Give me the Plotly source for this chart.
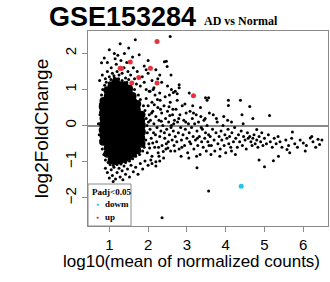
import plotly.graph_objects as go

# ---------------- data ----------------
# dense core of non-significant genes (drawn with larger dots so they merge)
core_x = [0.84, 0.85, 0.83, 0.84, 0.85, 0.84, 0.83, 0.85,
          0.95, 0.96, 0.94, 0.95, 0.96, 0.95, 0.94, 0.96, 0.95, 0.94, 0.96, 0.95,
          1.06, 1.05, 1.07, 1.06, 1.05, 1.06, 1.07, 1.05, 1.06, 1.07, 1.05, 1.06, 1.07, 1.06,
          1.17, 1.16, 1.18, 1.17, 1.16, 1.17, 1.18, 1.16, 1.17, 1.18, 1.16, 1.17, 1.18, 1.16, 1.17,
          1.28, 1.27, 1.29, 1.28, 1.27, 1.28, 1.29, 1.27, 1.28, 1.29, 1.27, 1.28, 1.29, 1.28,
          1.39, 1.38, 1.40, 1.39, 1.38, 1.39, 1.40, 1.38, 1.39, 1.40, 1.38, 1.39, 1.40, 1.39,
          1.50, 1.49, 1.51, 1.50, 1.49, 1.50, 1.51, 1.49, 1.50, 1.51, 1.49, 1.50, 1.51,
          1.61, 1.60, 1.62, 1.61, 1.60, 1.61, 1.62, 1.60, 1.61, 1.62, 1.60,
          1.72, 1.71, 1.73, 1.72, 1.71, 1.72, 1.73, 1.71, 1.72,
          1.83, 1.82, 1.84, 1.83, 1.82, 1.83]
core_y = [-0.45, -0.28, -0.12, 0.04, 0.20, 0.36, 0.52, 0.68,
          -0.78, -0.62, -0.46, -0.30, -0.14, 0.02, 0.18, 0.34, 0.50, 0.66, 0.82, 0.98,
          -0.95, -0.79, -0.63, -0.47, -0.31, -0.15, 0.01, 0.17, 0.33, 0.49, 0.65, 0.81, 0.97, 1.12,
          -0.98, -0.82, -0.66, -0.50, -0.34, -0.18, -0.02, 0.14, 0.30, 0.46, 0.62, 0.78, 0.94, 1.10, 1.22,
          -0.96, -0.80, -0.64, -0.48, -0.32, -0.16, 0.00, 0.16, 0.32, 0.48, 0.64, 0.80, 0.96, 1.12,
          -0.92, -0.76, -0.60, -0.44, -0.28, -0.12, 0.04, 0.20, 0.36, 0.52, 0.68, 0.84, 1.00, 1.12,
          -0.85, -0.69, -0.53, -0.37, -0.21, -0.05, 0.11, 0.27, 0.43, 0.59, 0.75, 0.91, 1.02,
          -0.78, -0.62, -0.46, -0.30, -0.14, 0.02, 0.18, 0.34, 0.50, 0.66, 0.82,
          -0.68, -0.52, -0.36, -0.20, -0.04, 0.12, 0.28, 0.44, 0.60,
          -0.50, -0.34, -0.18, -0.02, 0.14, 0.30]

halo_pts = [(0.76, 0.3), (0.78, -0.1), (0.77, 0.6), (0.79, -0.4), (0.8, 0.85), (0.81, 0.1),
            (0.82, -0.65), (0.83, 1.0), (0.86, -0.8), (0.88, 1.12), (0.9, -0.95), (0.92, 1.2),
            (0.97, -1.02), (1.0, 1.18), (1.02, -1.08), (1.04, 1.28), (1.1, -1.1), (1.13, 1.32),
            (1.2, -1.08), (1.24, 1.3), (1.3, -1.06), (1.33, 1.25), (1.42, -1.02), (1.45, 1.2),
            (1.52, -0.98), (1.55, 1.1), (1.6, -0.92), (1.65, 1.0), (1.68, -0.85), (1.75, 0.85),
            (1.78, -0.8), (1.8, 0.72), (1.86, -0.7), (1.88, 0.55), (1.9, -0.6), (1.92, 0.42),
            (1.95, 0.2), (1.94, -0.4), (1.97, 0.0), (1.98, -0.2), (1.9, 0.05), (1.88, -0.3),
            (0.75, 1.25), (0.72, 0.05), (0.74, -0.25)]

top_pts = [(0.8, 1.74), (0.87, 1.87), (0.82, 1.4), (0.9, 1.3), (0.95, 1.5), (1.0, 1.35),
           (1.05, 1.6), (1.08, 1.45), (1.12, 1.38), (1.13, 2.0), (1.18, 1.7), (1.2, 1.5),
           (1.25, 1.4), (1.3, 1.8), (1.33, 1.45), (1.38, 1.6), (1.39, 2.0), (1.42, 1.32),
           (1.48, 1.5), (1.5, 1.28), (1.55, 1.4), (1.6, 1.9), (1.62, 1.6), (1.65, 1.3),
           (1.7, 1.15), (1.72, 1.5), (1.77, 1.96), (1.8, 1.1), (1.85, 1.35), (1.9, 1.2),
           (1.95, 1.0), (2.0, 1.45), (2.05, 0.95), (2.1, 1.25), (2.15, 1.05), (2.3, 1.4),
           (2.42, 1.77), (2.35, 1.2), (2.5, 1.1), (2.6, 1.0), (2.7, 0.95), (2.8, 1.05),
           (2.55, 0.85), (1.5, 2.15), (0.95, 1.75), (1.22, 1.95), (1.9, 1.65), (2.2, 1.55),
           (2.0, 1.8), (1.45, 1.75), (1.15, 1.85), (2.3, 0.9), (2.25, 1.3), (1.95, 1.55),
           (2.59, 1.4), (2.8, 1.13), (2.65, 0.92), (2.75, 0.88), (3.06, 0.9), (3.48, 0.77)]

band_pts = [(1.95, 0.75), (1.98, -0.75), (2.0, 0.55), (2.02, -0.5), (2.03, 0.3), (2.05, -0.1),
            (2.06, 0.15), (2.08, -0.35), (2.1, 0.65), (2.1, -0.85), (2.12, 0.4), (2.14, -0.2),
            (2.15, 0.05), (2.17, -0.6), (2.18, 0.85), (2.2, 0.25), (2.22, -0.45), (2.23, -0.05),
            (2.25, 0.5), (2.26, -0.75), (2.28, 0.15), (2.3, -0.3), (2.31, 0.7), (2.33, -0.15),
            (2.35, 0.35), (2.36, -0.55), (2.38, 0.0), (2.4, -0.9), (2.41, 0.55), (2.43, -0.35),
            (2.45, 0.2), (2.46, -0.65), (2.48, -0.1), (2.5, 0.4), (2.52, -0.45), (2.53, 0.1),
            (2.55, -0.25), (2.57, 0.65), (2.58, -0.7), (2.6, 0.0), (2.62, -0.4), (2.63, 0.3),
            (2.65, -0.15), (2.67, -0.55), (2.68, 0.15), (2.7, -0.3), (2.03, 0.95), (2.07, -0.95),
            (2.13, 1.0), (2.2, -1.0), (2.28, -0.85), (2.16, 0.58), (2.24, 0.72), (2.04, -0.62),
            (2.12, -0.48), (2.32, 0.45), (2.39, -0.72), (2.44, 0.8), (2.47, -0.5), (2.54, 0.52),
            (2.59, -0.05), (2.64, 0.45), (2.69, -0.7), (2.01, 0.1), (2.09, 0.35), (2.19, -0.25),
            (2.27, -0.6), (2.34, 0.12), (2.42, -0.2), (2.51, -0.62), (2.56, 0.28), (2.66, 0.05),
            (2.72, 0.45), (2.74, -0.45), (2.76, 0.1), (2.78, -0.2), (2.8, -0.65), (2.82, 0.3),
            (2.84, -0.05), (2.86, -0.4), (2.88, 0.55), (2.9, -0.25), (2.92, 0.15), (2.94, -0.55),
            (2.96, -0.1), (2.98, 0.35), (3.0, -0.35), (3.02, -0.75), (3.04, 0.05), (3.06, -0.2),
            (3.08, 0.4), (3.1, -0.5), (3.12, -0.05), (3.14, 0.2), (3.16, -0.3), (3.18, -0.65),
            (3.2, 0.05), (3.22, -0.4), (3.24, 0.3), (3.26, -0.15), (3.28, -0.55), (3.3, 0.1),
            (3.32, -0.3), (3.34, -0.8), (3.36, 0.25), (3.38, -0.45), (3.4, -0.1), (3.42, -0.6),
            (3.44, 0.15), (3.46, -0.35), (3.48, -0.2), (3.5, -0.7), (3.52, 0.0), (3.54, -0.45),
            (3.56, -0.25), (3.58, 0.35), (2.75, 0.7), (2.85, -0.85), (2.95, 0.6), (3.05, -0.9),
            (3.15, 0.55), (3.25, -0.85), (3.35, 0.5), (2.79, 0.2), (2.87, -0.6), (2.97, 0.1),
            (3.07, -0.45), (3.17, 0.35), (3.27, -0.35), (3.37, -0.05), (3.47, 0.2), (3.57, -0.55)]

tail_pts = [(3.6, -0.3), (3.63, -0.55), (3.66, -0.1), (3.7, -0.4), (3.72, -0.7), (3.75, -0.2),
            (3.78, 0.1), (3.8, -0.5), (3.83, -0.3), (3.86, -0.65), (3.88, -0.15), (3.9, -0.4),
            (3.93, 0.0), (3.96, -0.55), (3.98, -0.25), (4.0, -0.75), (4.03, -0.35), (4.06, -0.1),
            (4.08, -0.5), (4.1, -0.3), (4.13, -0.6), (4.16, -0.2), (4.2, -0.45), (4.23, -0.05),
            (4.26, -0.35), (4.3, -0.6), (4.33, -0.25), (4.36, -0.45), (4.4, -0.15), (4.43, -0.55),
            (4.46, -0.3), (4.5, -0.4), (4.53, -0.65), (4.56, -0.2), (4.58, -0.35), (3.68, 0.3),
            (3.85, -0.85), (4.05, 0.15), (4.25, -0.8), (4.45, 0.05), (3.62, -0.8), (3.95, 0.25),
            (4.15, -0.7), (4.62, -0.3), (4.65, -0.45), (4.68, -0.55), (4.7, -0.35), (4.73, -0.25),
            (4.76, -0.5), (4.8, -0.4), (4.83, -0.6), (4.86, -0.3), (4.9, -0.45), (4.93, -0.2),
            (4.96, -0.55), (5.0, -0.35), (5.05, -0.5), (5.1, -0.25), (5.15, -0.45), (5.2, -0.6),
            (5.25, -0.35), (5.3, -0.5), (5.35, -0.3), (5.4, -0.45), (5.45, -0.6), (5.55, -0.4),
            (5.62, -0.55), (5.7, -0.35), (5.78, -0.5), (5.85, -0.6), (5.92, -0.4), (6.0, -0.48),
            (6.08, -0.55), (6.18, -0.34), (6.25, -0.45), (6.32, -0.6), (6.42, -0.52), (6.48, -0.4),
            (5.58, -0.66), (5.72, -0.18), (4.8, -0.11), (5.65, -0.75), (6.05, -0.7), (6.22, -0.3),
            (6.38, -0.38)]

low_pts = [(0.95, -1.3), (1.0, -1.45), (1.05, -1.22), (1.08, -1.38), (1.12, -1.15), (1.16, -1.48),
           (1.2, -1.3), (1.25, -1.18), (1.28, -1.42), (1.33, -1.25), (1.38, -1.12), (1.42, -1.35),
           (1.47, -1.2), (1.52, -1.42), (1.56, -1.1), (1.62, -1.28), (1.68, -1.15), (1.74, -1.35),
           (1.8, -1.05), (1.86, -1.2), (1.92, -0.98), (2.0, -1.1), (2.1, -1.05), (2.3, -0.98),
           (0.9, -1.18), (1.1, -1.55), (1.35, -1.5), (2.2, -1.12)]

outlier_pts = [(2.57, 2.47), (1.67, 2.38), (1.28, 2.27), (1.0, 2.1), (2.47, 1.78), (2.49, 1.64),
               (3.56, 0.77), (3.52, 0.7), (4.07, 0.7), (4.38, 0.7), (4.07, 0.56), (4.62, 0.53),
               (4.42, 0.3), (4.7, 0.2), (5.13, 0.28), (3.76, 0.2), (4.15, 0.1), (3.26, -1.17),
               (3.56, -1.81), (2.36, -2.55), (5.0, -1.14), (5.23, -0.97), (4.86, -0.95),
               (5.36, -0.85)]

up_x = [2.23, 1.54, 1.28, 1.31, 2.06, 1.76, 1.58, 2.23, 3.17]
up_y = [2.33, 1.76, 1.59, 1.58, 1.59, 1.33, 1.18, 1.18, 0.83]
down_x = [4.40]
down_y = [-1.68]

x_ticks = [1, 2, 3, 4, 5, 6]
y_ticks = [-2, -1, 0, 1, 2]

scatter_pts = halo_pts + top_pts + band_pts + tail_pts + low_pts + outlier_pts
scat_x = [p[0] for p in scatter_pts]
scat_y = [p[1] for p in scatter_pts]

# ---------------- figure ----------------
W, H = 330, 282
L, R, T, B = 88, 2, 31, 56
pw, ph = W - L - R, H - T - B

def px(xp):
    return (xp - L) / pw

def py(yp):
    return (H - B - yp) / ph

fig = go.Figure()
fig.add_trace(go.Scatter(x=core_x, y=core_y, mode="markers", showlegend=False,
                         marker=dict(color="black", size=8), hoverinfo="skip"))
fig.add_trace(go.Scatter(x=scat_x, y=scat_y, mode="markers", showlegend=False,
                         marker=dict(color="black", size=3), hoverinfo="skip"))
fig.add_trace(go.Scatter(x=down_x, y=down_y, mode="markers", name="dowm", showlegend=False,
                         marker=dict(color="#1ec8e6", size=5)))
fig.add_trace(go.Scatter(x=up_x, y=up_y, mode="markers", name="up", showlegend=False,
                         marker=dict(color="#e8313a", size=5)))

axis_common = dict(showline=True, mirror=True, linecolor="#8a8a8a", linewidth=1,
                   showgrid=False, ticks="outside", ticklen=5, tickcolor="#8a8a8a",
                   tickfont=dict(family="Liberation Sans, Arial", size=15, color="black"))

fig.update_xaxes(range=[0.451, 6.637], tickvals=x_ticks, zeroline=False, **axis_common)
fig.update_yaxes(range=[-2.78, 2.62], tickvals=y_ticks, tickangle=-90,
                 zeroline=True, zerolinecolor="#8a8a8a", zerolinewidth=1.5,
                 title=dict(text="log2FoldChange", standoff=8,
                            font=dict(family="Liberation Sans, Arial", size=19, color="black")),
                 **axis_common)

# x axis title (centred where the reference puts it)
fig.add_annotation(xref="paper", yref="paper", x=px(191), y=py(261), xanchor="center",
                   yanchor="middle", showarrow=False,
                   text="log10(mean of normalized counts)",
                   font=dict(family="Liberation Sans, Arial", size=17, color="black"))

# title (two pieces sharing a baseline)
fig.add_annotation(xref="paper", yref="paper", x=px(47), y=py(0), xanchor="left",
                   yanchor="top", showarrow=False, text="<b>GSE153284</b>",
                   font=dict(family="Liberation Sans, Arial", size=27, color="black"))
fig.add_annotation(xref="paper", yref="paper", x=px(202), y=py(30), xanchor="left",
                   yanchor="bottom", showarrow=False, text="<b>AD vs Normal</b>",
                   font=dict(family="Liberation Serif, Times New Roman", size=12, color="black"))

# legend box
fig.add_shape(type="rect", xref="paper", yref="paper", x0=px(88), x1=px(131), y0=py(226), y1=py(184),
              line=dict(color="#8a8a8a", width=1), fillcolor="white", layer="above")
leg_font = dict(family="Liberation Serif, Times New Roman", size=9, color="black")
fig.add_annotation(xref="paper", yref="paper", x=px(90), y=py(192), xanchor="left", yanchor="middle",
                   showarrow=False, text="<b>Padj<0.05</b>", font=leg_font)
fig.add_annotation(xref="paper", yref="paper", x=px(97), y=py(204), xanchor="center", yanchor="middle",
                   showarrow=False, text="●", font=dict(size=5, color="#1ec8e6"))
fig.add_annotation(xref="paper", yref="paper", x=px(103), y=py(204), xanchor="left", yanchor="middle",
                   showarrow=False, text="<b>dowm</b>", font=leg_font)
fig.add_annotation(xref="paper", yref="paper", x=px(97), y=py(217), xanchor="center", yanchor="middle",
                   showarrow=False, text="●", font=dict(size=5, color="#e8313a"))
fig.add_annotation(xref="paper", yref="paper", x=px(103), y=py(217), xanchor="left", yanchor="middle",
                   showarrow=False, text="<b>up</b>", font=leg_font)

fig.update_layout(width=W, height=H, margin=dict(l=L, r=R, t=T, b=B),
                  paper_bgcolor="white", plot_bgcolor="white", showlegend=False)

fig.write_html("out.html", config={"displayModeBar": False},
               post_script="document.body.style.margin='0px';document.body.style.overflow='hidden';")
